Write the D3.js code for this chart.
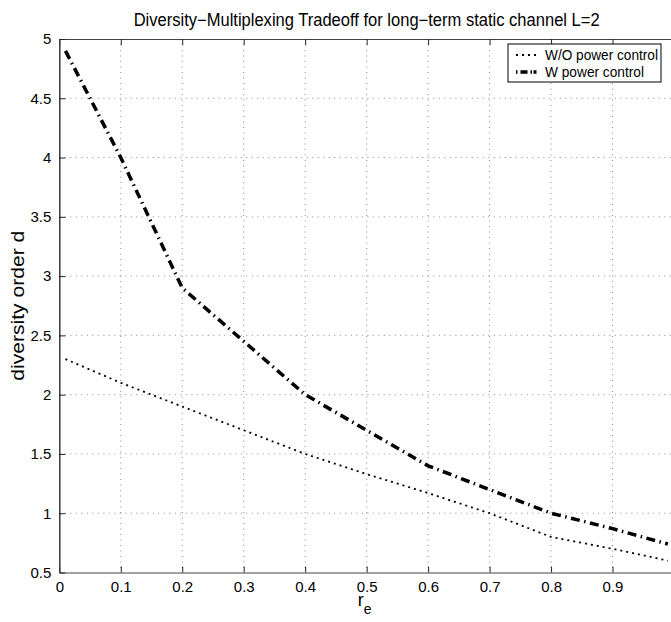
<!DOCTYPE html>
<html>
<head>
<meta charset="utf-8">
<script src="https://cdn.jsdelivr.net/npm/d3@7"></script>
<style>
  body { margin: 0; background: #fff; }
  text { font-family: "Liberation Sans", Arial, sans-serif; fill: #000; }
</style>
</head>
<body>
<div id="chart"></div>
<script>
var width = 671,
    height = 622;

// data
var rates = [0.01, 0.1, 0.2, 0.3, 0.4, 0.5, 0.6, 0.7, 0.8, 0.9, 0.99];
var noPowerControl = [2.3, 2.1, 1.9, 1.7, 1.5, 1.33, 1.17, 1.0, 0.8, 0.7, 0.6];
var withPowerControl = [4.9, 4.0, 2.9, 2.45, 2.0, 1.7, 1.4, 1.2, 1.0, 0.87, 0.74];
var xTicks = [0, 0.1, 0.2, 0.3, 0.4, 0.5, 0.6, 0.7, 0.8, 0.9, 1];
var yTicks = [0.5, 1, 1.5, 2, 2.5, 3, 3.5, 4, 4.5, 5];
var seriesNames = ["W/O power control", "W power control"];

var m = { left: 59.3, right: 674, top: 39, bottom: 572.5 };

var svg = d3.select("#chart")
    .append("svg")
    .attr("width", width)
    .attr("height", height);

var x = d3.scaleLinear().domain([0, 1]).range([m.left, m.right]);
var y = d3.scaleLinear().domain([0.5, 5]).range([m.bottom, m.top]);

// grid
var grid = svg.append("g")
    .attr("stroke", "#8a8a8a")
    .attr("stroke-width", 1)
    .attr("stroke-dasharray", "1,4.5");

grid.selectAll(".vg")
    .data(xTicks.slice(1, -1))
    .enter()
    .append("line")
    .attr("x1", d => x(d)).attr("x2", d => x(d))
    .attr("y1", m.top).attr("y2", m.bottom);

grid.selectAll(".hg")
    .data(yTicks.slice(1, -1))
    .enter()
    .append("line")
    .attr("y1", d => y(d)).attr("y2", d => y(d))
    .attr("x1", m.left).attr("x2", m.right);

// axes, MATLAB style with inner ticks
var fmt = d3.format("");

svg.append("g")
    .attr("transform", "translate(0," + m.bottom + ")")
    .call(d3.axisBottom(x).tickValues(xTicks.slice(0, -1)).tickSize(-6).tickPadding(9).tickSizeOuter(0).tickFormat(fmt))
    .call(g => g.selectAll("text").attr("font-size", 15).attr("font-family", null))
    .call(g => g.select(".domain").attr("stroke", "#444").attr("stroke-width", 1.2));

svg.append("g")
    .attr("transform", "translate(0," + m.top + ")")
    .call(d3.axisTop(x).tickValues(xTicks.slice(0, -1)).tickSize(-6).tickSizeOuter(0).tickFormat(""))
    .call(g => g.select(".domain").attr("stroke", "#444").attr("stroke-width", 1.2));

svg.append("g")
    .attr("transform", "translate(" + m.left + ",0)")
    .call(d3.axisLeft(y).tickValues(yTicks).tickSize(-6).tickPadding(8).tickSizeOuter(0).tickFormat(fmt))
    .call(g => g.selectAll("text").attr("font-size", 15).attr("font-family", null))
    .call(g => g.select(".domain").attr("stroke", "#444").attr("stroke-width", 1.6));

svg.selectAll(".tick line").attr("stroke", "#222");

// curves
var line = d3.line()
    .x((d, i) => x(rates[i]))
    .y(d => y(d));

svg.append("path")
    .datum(noPowerControl)
    .attr("d", line)
    .attr("fill", "none")
    .attr("stroke", "#000")
    .attr("stroke-width", 1.8)
    .attr("stroke-dasharray", "2,4");

svg.append("path")
    .datum(withPowerControl)
    .attr("d", line)
    .attr("fill", "none")
    .attr("stroke", "#000")
    .attr("stroke-width", 3.5)
    .attr("stroke-dasharray", "9,4.5,1.5,4.5");

// title and labels
svg.append("text")
    .attr("x", (m.left + m.right) / 2)
    .attr("y", 26)
    .attr("text-anchor", "middle")
    .attr("font-size", 17.5)
    .attr("textLength", 466)
    .attr("lengthAdjust", "spacingAndGlyphs")
    .text("Diversity\u2212Multiplexing Tradeoff for long\u2212term static channel L=2");

svg.append("text")
    .attr("transform", "translate(24," + (m.top + m.bottom) / 2 + ") rotate(-90)")
    .attr("text-anchor", "middle")
    .attr("font-size", 18)
    .attr("textLength", 150)
    .attr("lengthAdjust", "spacingAndGlyphs")
    .text("diversity order d");

var xl = svg.append("text")
    .attr("x", (m.left + m.right) / 2 - 2)
    .attr("y", 606)
    .attr("text-anchor", "middle")
    .attr("font-size", 18);
xl.append("tspan").text("r");
xl.append("tspan").attr("dy", 8).attr("font-size", 14).text("e");

// legend
var legend = svg.append("g").attr("transform", "translate(508,44)");
legend.append("rect")
    .attr("width", 153).attr("height", 38)
    .attr("fill", "#fff").attr("stroke", "#000").attr("stroke-width", 1);

var styles = [
    { w: 1.8, dash: "2,4" },
    { w: 3.5, dash: "1.5,3,7,3,1.5" }
];

legend.selectAll(".row")
    .data(seriesNames)
    .enter()
    .append("g")
    .attr("transform", (d, i) => "translate(0," + (11 + i * 17) + ")")
    .each(function (d, i) {
        var g = d3.select(this);
        g.append("line")
            .attr("x1", 8).attr("x2", 30)
            .attr("stroke", "#000")
            .attr("stroke-width", styles[i].w)
            .attr("stroke-dasharray", styles[i].dash);
        g.append("text")
            .attr("x", 37).attr("y", 5)
            .attr("font-size", 14.5)
            .attr("textLength", i === 0 ? 113 : 99)
            .attr("lengthAdjust", "spacingAndGlyphs")
            .text(d);
    });
</script>
</body>
</html>
